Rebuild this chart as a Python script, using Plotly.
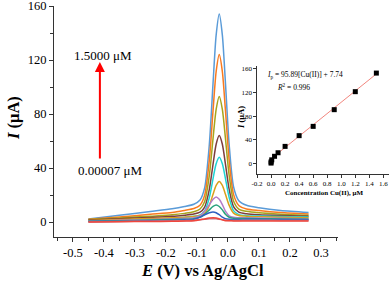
import plotly.graph_objects as go

# ---- main voltammograms: potential grid (V) and currents (uA) ----
E = [-0.45, -0.35, -0.25, -0.18, -0.14, -0.11, -0.09, -0.075, -0.06, -0.048, -0.038,
     -0.028, -0.018, -0.008, 0.004, 0.018, 0.035, 0.06, 0.10, 0.17, 0.26]

i_1500 = [2.2, 5.0, 7.8, 9.8, 11.5, 13.2, 16.3, 25.5, 57.4, 102.9, 138.4, 154, 138.4, 102.9, 57.4, 26.2, 15.8, 12.4, 10.6, 8.5, 7.0]
i_1200 = [2.0, 3.8, 5.7, 7.0, 8.6, 10.0, 12.5, 19.9, 45.8, 82.6, 111.4, 124, 111.4, 82.6, 45.8, 20.5, 12.3, 9.7, 8.5, 7.0, 6.0]
i_0900 = [1.8, 3.0, 4.3, 5.3, 6.4, 7.6, 9.6, 15.2, 34.5, 62.0, 83.5, 93, 83.5, 62.0, 34.5, 15.6, 9.6, 7.9, 6.8, 5.8, 5.0]
i_0600 = [1.5, 2.5, 3.4, 4.2, 5.1, 5.9, 7.3, 11.1, 24.2, 42.9, 57.6, 64, 57.6, 42.9, 24.2, 11.4, 7.3, 6.1, 5.4, 4.8, 4.3]
i_0400 = [0.5, 1.3, 2.1, 2.8, 3.5, 4.2, 5.3, 8.2, 18.1, 32.2, 43.2, 48, 43.2, 32.2, 18.1, 8.4, 5.5, 4.7, 4.4, 4.0, 3.8]
i_0200 = [1.2, 1.9, 2.6, 3.1, 3.6, 4.1, 4.8, 6.5, 12.3, 20.6, 27.1, 30, 27.1, 20.6, 12.3, 6.6, 4.8, 4.3, 3.9, 3.5, 3.2]
i_0100 = [0.8, 1.3, 1.8, 2.3, 2.7, 3.2, 4.5, 8.0, 12.9, 16.8, 18.5, 16.8, 12.9, 8.0, 4.6, 3.5, 3.2, 3.1, 2.9, 2.7, 2.5]
i_0050 = [0.6, 1.0, 1.4, 1.9, 2.1, 2.5, 3.5, 5.7, 9.0, 11.5, 12.6, 11.5, 9.0, 5.7, 3.5, 2.8, 2.6, 2.6, 2.5, 2.3, 2.1]
i_0010 = [0.3, 0.6, 0.9, 1.3, 1.6, 2.1, 3.6, 5.4, 6.9, 7.5, 6.9, 5.4, 3.6, 2.4, 2.0, 1.9, 1.8, 2.0, 2.0, 1.8, 1.6]
i_0001 = [0.1, 0.4, 0.6, 0.8, 1.0, 1.2, 1.6, 2.0, 2.4, 2.5, 2.4, 2.0, 1.6, 1.3, 1.2, 1.2, 1.2, 1.3, 1.3, 1.2, 1.1]
i_00007 = [0.0, 0.2, 0.4, 0.5, 0.7, 0.9, 1.6, 2.3, 2.9, 3.2, 2.9, 2.3, 1.6, 1.0, 0.9, 0.8, 0.8, 0.8, 0.8, 0.8, 0.7]

curves = [i_1500, i_1200, i_0900, i_0600, i_0400, i_0200, i_0100, i_0050, i_0010, i_0001, i_00007]
curve_colors = ["#5A9BD8", "#F97A1F", "#A6A41C", "#7D3D3D", "#1ED3D3", "#D8A01A",
                "#B57DC8", "#2AA37E", "#2D5FC0", "#C47C8C", "#F0463C"]

# ---- inset calibration ----
conc = [0.00007, 0.001, 0.01, 0.05, 0.1, 0.2, 0.4, 0.6, 0.9, 1.2, 1.5]
ip = [0.5, 2.5, 6.0, 12.0, 18.0, 28.8, 47.0, 62.7, 91.0, 121.5, 153.0]
fit_slope = 95.89
fit_intercept = 7.74
fit_x = [0.0, 1.5]

main_xticks = [-0.5, -0.4, -0.3, -0.2, -0.1, 0.0, 0.1, 0.2, 0.3]
main_xticklabels = ["-0.5", "-0.4", "-0.3", "-0.2", "-0.1", "0.0", "0.1", "0.2", "0.3"]
main_yticks = [0, 40, 80, 120, 160]
inset_xticks = [-0.2, 0.0, 0.2, 0.4, 0.6, 0.8, 1.0, 1.2, 1.4, 1.6]
inset_xticklabels = ["-0.2", "0.0", "0.2", "0.4", "0.6", "0.8", "1.0", "1.2", "1.4", "1.6"]
inset_yticks = [0, 40, 80, 120, 160]

SERIF = "Liberation Serif"

fig = go.Figure()
for ys, col in zip(curves, curve_colors):
    fig.add_trace(go.Scatter(x=E, y=ys, mode="lines",
                             line=dict(color=col, width=1.5, shape="spline", smoothing=0.7),
                             showlegend=False, hoverinfo="skip", xaxis="x", yaxis="y"))

fit_y = [fit_slope * v + fit_intercept for v in fit_x]
fig.add_trace(go.Scatter(x=fit_x, y=fit_y, mode="lines", line=dict(color="#F2867E", width=1),
                         showlegend=False, xaxis="x2", yaxis="y2"))
fig.add_trace(go.Scatter(x=conc, y=ip, mode="markers",
                         marker=dict(symbol="square", size=5, color="black"),
                         showlegend=False, xaxis="x2", yaxis="y2"))

W, H = 392, 282
L, R, T, B = 54, 0, 6, 45
PW, PH = W - L - R, H - T - B


def px(xp):
    return (xp - L) / PW


def py(yp):
    return (H - B - yp) / PH


axis_common = dict(showline=True, linecolor="#333333", linewidth=1.2, ticks="outside",
                   tickcolor="#333333", showgrid=False, zeroline=False, mirror=False,
                   automargin=False, ticklabeloverflow="allow")

fig.update_layout(
    width=W, height=H,
    margin=dict(l=L, r=R, t=T, b=B, autoexpand=False),
    paper_bgcolor="white", plot_bgcolor="white",
    font=dict(family=SERIF, color="black"),
    xaxis=dict(domain=[0, px(338)], range=[-0.561, 0.355], tickvals=main_xticks,
               ticktext=main_xticklabels, ticklen=4, tickfont=dict(size=12.5),
               minor=dict(dtick=0.05, tick0=0, ticks="outside", ticklen=2.5, tickcolor="#333333"),
               anchor="y", **axis_common),
    yaxis=dict(domain=[0, 1], range=[-11.1, 160.01], tickvals=main_yticks, ticklen=4,
               tickfont=dict(size=12.5),
               minor=dict(dtick=20, tick0=0, ticks="outside", ticklen=2.5, tickcolor="#333333"),
               anchor="x", **axis_common),
    xaxis2=dict(domain=[px(257), px(389)], range=[-0.2, 1.68], tickvals=inset_xticks,
                ticktext=inset_xticklabels, ticklen=2.5, tickfont=dict(size=7),
                anchor="y2", **axis_common),
    yaxis2=dict(domain=[py(174), py(66)], range=[-18, 165], tickvals=inset_yticks, ticklen=2.5,
                tickfont=dict(size=7), anchor="x2", **axis_common),
)

ann = []
# main axis titles
ann.append(dict(x=px(202), y=py(270), xref="paper", yref="paper", showarrow=False,
                text="<b><i>E</i> (V) vs Ag/AgCl</b>", font=dict(size=16.5, family=SERIF),
                xanchor="center", yanchor="middle"))
ann.append(dict(x=px(13), y=py(118), xref="paper", yref="paper", showarrow=False,
                text="<b><i>I</i> (μA)</b>", font=dict(size=16.5, family=SERIF), textangle=-90,
                xanchor="center", yanchor="middle"))
# red arrow and labels
ann.append(dict(x=-0.413, y=118.5, ax=-0.413, ay=46, xref="x", yref="y", axref="x", ayref="y",
                showarrow=True, text="", arrowcolor="#FF0000", arrowwidth=2, arrowhead=2,
                arrowsize=1))
ann.append(dict(x=-0.402, y=123.7, xref="x", yref="y", showarrow=False, text="1.5000 μM",
                font=dict(size=13, family=SERIF), xanchor="center", yanchor="middle"))
ann.append(dict(x=-0.382, y=38, xref="x", yref="y", showarrow=False, text="0.00007 μM",
                font=dict(size=13, family=SERIF), xanchor="center", yanchor="middle"))
# inset texts
ann.append(dict(x=px(265), y=py(75), xref="paper", yref="paper", showarrow=False,
                text="<i>I</i><sub>p</sub> = 95.89[Cu(II)] + 7.74", font=dict(size=7.5, family=SERIF),
                xanchor="left", yanchor="middle"))
ann.append(dict(x=px(275), y=py(87), xref="paper", yref="paper", showarrow=False,
                text="<i>R</i><sup>2</sup> = 0.996", font=dict(size=7.5, family=SERIF),
                xanchor="left", yanchor="middle"))
ann.append(dict(x=px(324), y=py(193), xref="paper", yref="paper", showarrow=False,
                text="<b>Concentration Cu(II), μM</b>", font=dict(size=7, family=SERIF),
                xanchor="center", yanchor="middle"))
ann.append(dict(x=px(241), y=py(118), xref="paper", yref="paper", showarrow=False,
                text="<b><i>I</i> (μA)</b>", font=dict(size=8.5, family=SERIF), textangle=-90,
                xanchor="center", yanchor="middle"))
fig.update_layout(annotations=ann)

fig.write_html("out.html", config={"displayModeBar": False},
               post_script="document.body.style.margin='0';")
